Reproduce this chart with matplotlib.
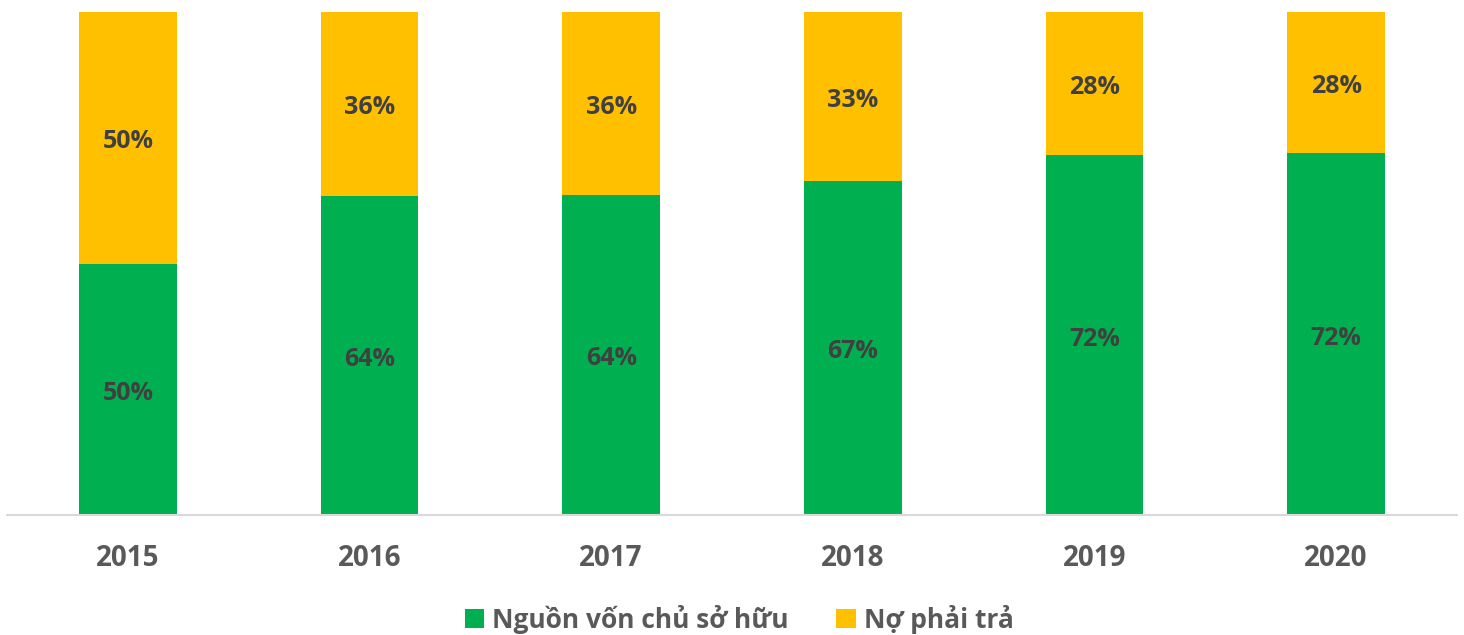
import matplotlib.pyplot as plt
import numpy as np

# data
years = ['2015', '2016', '2017', '2018', '2019', '2020']
von_chu_so_huu = [50, 63.5, 63.7, 66.5, 71.5, 72]
no_phai_tra = [50, 36.5, 36.3, 33.5, 28.5, 28]
labels_von = ['50%', '64%', '64%', '67%', '72%', '72%']
labels_no = ['50%', '36%', '36%', '33%', '28%', '28%']

plt.rcParams['font.family'] = ['Open Sans', 'DejaVu Sans']

fig = plt.figure(figsize=(14.64, 6.35), dpi=100)
ax = fig.add_axes([7 / 1464, 120 / 635, 1450 / 1464, 503 / 635])

x = np.arange(len(years))
w = 0.405
b1 = ax.bar(x, von_chu_so_huu, w, color='#00B050', label='Nguồn vốn chủ sở hữu')
b2 = ax.bar(x, no_phai_tra, w, bottom=von_chu_so_huu, color='#FFC000', label='Nợ phải trả')

anns = ax.bar_label(b1, labels=labels_von, label_type='center', fontsize=18,
                    fontweight='bold', color='#404040')
anns += ax.bar_label(b2, labels=labels_no, label_type='center', fontsize=18,
                     fontweight='bold', color='#404040')
# nudge labels slightly down
for a in anns:
    a.set_position((0, -3))

ax.set_xlim(-0.5, len(years) - 0.5)
ax.set_ylim(0, 100)
ax.set_xticks(x)
ax.set_xticklabels(years, fontsize=20, fontweight='bold', color='#595959')
ax.tick_params(axis='x', length=0, pad=21)
ax.set_yticks([])
for s in ['top', 'left', 'right']:
    ax.spines[s].set_visible(False)
ax.spines['bottom'].set_color('#D9D9D9')
ax.spines['bottom'].set_linewidth(1.5)

leg = fig.legend(handles=[b1, b2], loc='center', bbox_to_anchor=(0.505, 16 / 635),
                 ncol=2, frameon=False, handlelength=0.75, handleheight=0.75,
                 handletextpad=0.3, columnspacing=1.8,
                 prop={'size': 19, 'weight': 'bold'})
for t in leg.get_texts():
    t.set_color('#595959')

plt.savefig('out.png', dpi=100)
